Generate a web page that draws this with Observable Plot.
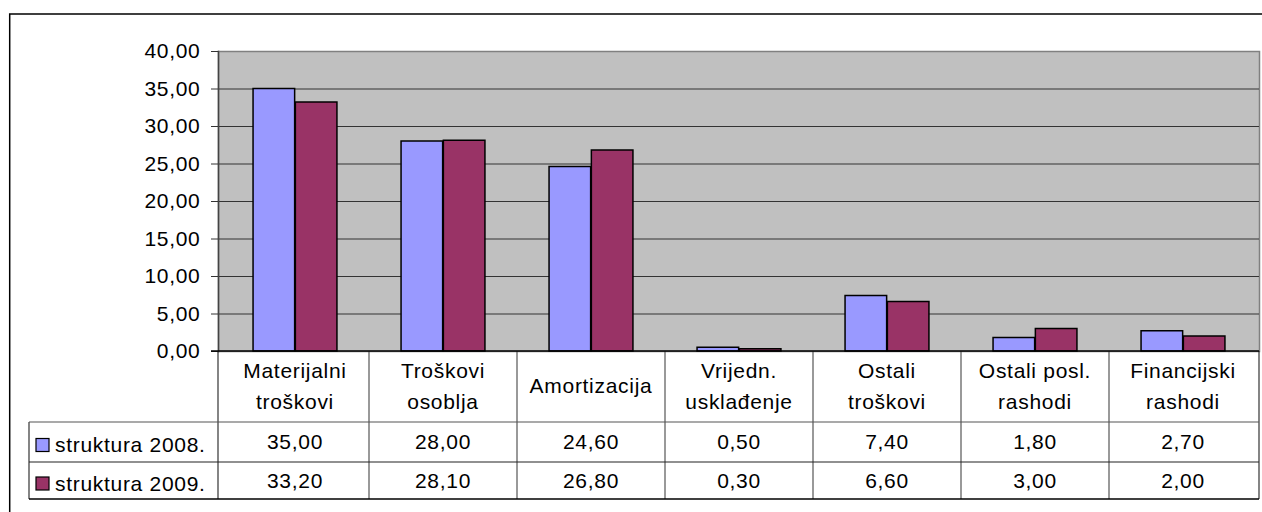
<!DOCTYPE html>
<html>
<head>
<meta charset="utf-8">
<script src="https://cdn.jsdelivr.net/npm/d3@7"></script>
<script src="https://cdn.jsdelivr.net/npm/@observablehq/plot@0.6"></script>
<style>
  html, body { margin: 0; padding: 0; background: #fff; }
  #chart { width: 1262px; height: 512px; overflow: hidden; }
</style>
</head>
<body>
<div id="chart"></div>
<script>
// ---- data ----
const categories = ["Materijalni troškovi", "Troškovi osoblja", "Amortizacija", "Vrijedn. usklađenje", "Ostali troškovi", "Ostali posl. rashodi", "Financijski rashodi"];
const categoryLines = [["Materijalni", "troškovi"], ["Troškovi", "osoblja"], ["Amortizacija"], ["Vrijedn.", "usklađenje"], ["Ostali", "troškovi"], ["Ostali posl.", "rashodi"], ["Financijski", "rashodi"]];
const seriesNames = ["struktura 2008.", "struktura 2009."];
const values2008 = [35.00, 28.00, 24.60, 0.50, 7.40, 1.80, 2.70];
const values2009 = [33.20, 28.10, 26.80, 0.30, 6.60, 3.00, 2.00];
const yTicks = [0, 5, 10, 15, 20, 25, 30, 35, 40];
const seriesColors = ["#9999FF", "#993366"];

const fmt = d => d.toFixed(2).replace(".", ",");
const rows2008 = categories.map((c, i) => ({cat: c, v: values2008[i]}));
const rows2009 = categories.map((c, i) => ({cat: c, v: values2009[i]}));

const FONT = "'Liberation Sans', Arial, sans-serif";
const FS = 21, LS = 0.7;
const W = 1262, H = 512;
const mL = 218, mR = 3, mT = 51, mB = 161;
const bw = (W - mL - mR) / categories.length;
const barW = 42.3;
const side = (bw - 2 * barW) / 2;

const plot = Plot.plot({
  width: W, height: H,
  marginLeft: mL, marginRight: mR, marginTop: mT, marginBottom: mB,
  style: {fontFamily: FONT, fontSize: FS + "px", letterSpacing: LS + "px", color: "#000", background: "#fff", overflow: "visible"},
  x: {domain: categories, padding: 0, axis: null},
  y: {domain: [0, 40]},
  marks: [
    Plot.frame({fill: "#C0C0C0", stroke: "#808080", strokeWidth: 1.5}),
    Plot.gridY(yTicks.filter(d => d > 0 && d < 40), {stroke: "#333", strokeOpacity: 1, strokeWidth: 1}),
    Plot.frame({anchor: "left", stroke: "#444", strokeWidth: 1.5}),
    Plot.barY(rows2008, {x: "cat", y: "v", fill: seriesColors[0], stroke: "#000", strokeWidth: 1.5, insetLeft: side, insetRight: side + barW}),
    Plot.barY(rows2009, {x: "cat", y: "v", fill: seriesColors[1], stroke: "#000", strokeWidth: 1.5, insetLeft: side + barW, insetRight: side}),
    Plot.axisY(yTicks, {tickFormat: fmt, tickSize: 7, tickPadding: 11, label: null, fontSize: FS, stroke: "#333"})
  ]
});
document.getElementById("chart").appendChild(plot);

// ---- data table below the plot, positioned with the plot's own scales ----
const xs = plot.scale("x");
const ys = plot.scale("y");
const svg = d3.select(plot);
const g = svg.append("g").attr("font-family", FONT).attr("font-size", FS).attr("letter-spacing", LS).attr("fill", "#000");

const x0 = xs.range[0], x1 = xs.range[1];
const yAxis0 = ys.apply(0);
const rowTop = 422, rowMid = 462, rowBot = 499;
const leftCol = 29;
const lineCol = "#555";

// category column separators and texts
categories.forEach((c, i) => {
  const xl = xs.apply(c);
  if (i > 0) g.append("line").attr("x1", xl).attr("x2", xl).attr("y1", yAxis0).attr("y2", rowBot).attr("stroke", lineCol).attr("stroke-width", 1.2);
  const cx = xl + xs.bandwidth / 2;
  const lines = categoryLines[i];
  const center = 386, lh = 31;
  lines.forEach((t, j) => {
    g.append("text").attr("x", cx).attr("y", center + (j - (lines.length - 1) / 2) * lh + 0.35 * FS)
      .attr("text-anchor", "middle").text(t);
  });
  g.append("text").attr("x", cx).attr("y", (rowTop + rowMid) / 2 + 0.35 * FS).attr("text-anchor", "middle").text(fmt(values2008[i]));
  g.append("text").attr("x", cx).attr("y", (rowMid + rowBot) / 2 + 0.35 * FS).attr("text-anchor", "middle").text(fmt(values2009[i]));
});
g.append("line").attr("x1", x0).attr("x2", x0).attr("y1", yAxis0).attr("y2", rowBot).attr("stroke", "#333").attr("stroke-width", 1.2);
g.append("line").attr("x1", x1).attr("x2", x1).attr("y1", yAxis0).attr("y2", rowBot).attr("stroke", "#333").attr("stroke-width", 1.2);
g.append("line").attr("x1", leftCol).attr("x2", leftCol).attr("y1", rowTop).attr("y2", rowBot).attr("stroke", "#333").attr("stroke-width", 1.2);
// horizontal lines
g.append("line").attr("x1", 211).attr("x2", x1).attr("y1", yAxis0).attr("y2", yAxis0).attr("stroke", "#000").attr("stroke-width", 1.5);
g.append("line").attr("x1", leftCol).attr("x2", x1).attr("y1", rowTop).attr("y2", rowTop).attr("stroke", lineCol).attr("stroke-width", 1.2);
g.append("line").attr("x1", leftCol).attr("x2", x1).attr("y1", rowMid).attr("y2", rowMid).attr("stroke", "#222").attr("stroke-width", 1.2);
g.append("line").attr("x1", leftCol).attr("x2", x1).attr("y1", rowBot).attr("y2", rowBot).attr("stroke", "#000").attr("stroke-width", 1.5);

// legend keys in the table
seriesNames.forEach((s, k) => {
  const top = k === 0 ? rowTop : rowMid;
  const bot = k === 0 ? rowMid : rowBot;
  const cy = (top + bot) / 2 + 3;
  g.append("rect").attr("x", 36).attr("y", cy - 6.5).attr("width", 13).attr("height", 13)
    .attr("fill", seriesColors[k]).attr("stroke", "#000").attr("stroke-width", 1.2);
  g.append("text").attr("x", 55).attr("y", cy + 0.35 * FS).attr("text-anchor", "start").text(s);
});

// outer chart border (top and left sides visible in the crop)
svg.append("path").attr("d", `M9.7,${H + 5}V14H${W + 5}`).attr("fill", "none").attr("stroke", "#000").attr("stroke-width", 1.5);
</script>
</body>
</html>
